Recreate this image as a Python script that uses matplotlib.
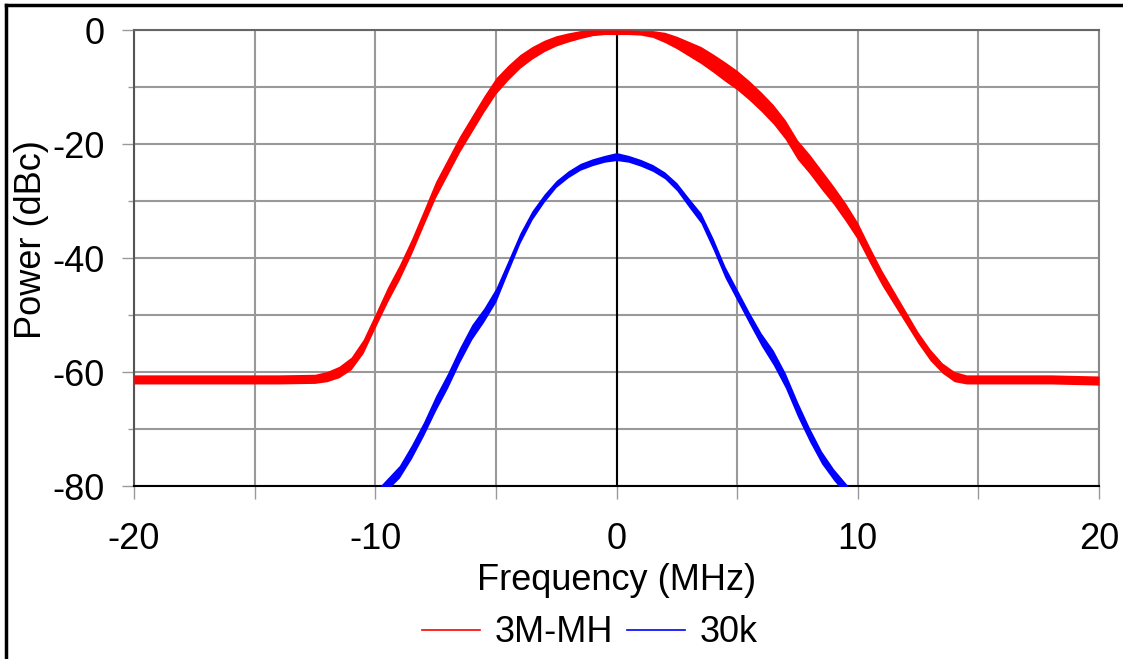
import matplotlib.pyplot as plt
from matplotlib.lines import Line2D
from matplotlib.ticker import MultipleLocator

plt.rcParams['font.family'] = ['Liberation Sans', 'DejaVu Sans']
plt.rcParams['axes.unicode_minus'] = False

# 3M-MH trace (MHz, dBc) and the noise spread around it
red_f = [-20, -18, -16, -14, -12.5, -12, -11.5, -11, -10.5, -10, -9.5, -9, -8.5, -8,
         -7.5, -7, -6.5, -6, -5.5, -5, -4.5, -4, -3.5, -3, -2.5, -2, -1.5, -1, -0.5,
         0, 0.5, 1, 1.5, 2, 2.5, 3, 3.5, 4, 4.5, 5, 5.5, 6, 6.5, 7, 7.5, 8, 8.5, 9,
         9.5, 10, 10.5, 11, 11.5, 12, 12.5, 13, 13.5, 14, 14.5, 16, 18, 20]
red_db = [-61.3, -61.3, -61.3, -61.3, -61.2, -60.8, -60.0, -58.5, -55.5, -51.0, -46.5,
          -42.5, -38.0, -33.0, -28.0, -24.0, -20.0, -16.5, -13.0, -9.8, -7.5, -5.5,
          -4.0, -2.8, -1.9, -1.3, -0.8, -0.5, -0.4, -0.4, -0.4, -0.5, -0.7, -1.3,
          -2.2, -3.3, -4.4, -5.8, -7.3, -8.8, -10.6, -12.6, -14.8, -17.5, -21.0,
          -23.5, -26.3, -29.0, -32.0, -35.3, -39.5, -43.5, -47.0, -50.5, -54.0,
          -57.0, -59.3, -60.8, -61.3, -61.3, -61.3, -61.5]
red_spread = [0.8, 0.8, 0.8, 0.8, 0.8, 0.9, 1.0, 1.1, 1.2, 1.2, 1.3, 1.3, 1.3, 1.3,
              1.4, 1.4, 1.4, 1.4, 1.4, 1.4, 1.3, 1.2, 1.1, 1.0, 0.9, 0.8, 0.7, 0.5,
              0.4, 0.4, 0.4, 0.4, 0.6, 0.9, 1.1, 1.3, 1.5, 1.6, 1.7, 1.7, 1.7, 1.7,
              1.7, 1.7, 1.7, 1.7, 1.7, 1.6, 1.6, 1.5, 1.4, 1.3, 1.2, 1.1, 1.0, 1.0,
              0.9, 0.9, 0.8, 0.8, 0.8, 0.8]

# 30k trace
blue_f = [-9.8, -9, -8.5, -8, -7.5, -7, -6.5, -6, -5.5, -5, -4.5, -4, -3.5, -3, -2.5,
          -2, -1.5, -1, -0.5, 0, 0.5, 1, 1.5, 2, 2.5, 3, 3.5, 4, 4.5, 5, 5.5, 6, 6.5,
          7, 7.5, 8, 8.5, 9, 9.6]
blue_db = [-81.0, -77.5, -74.0, -70.0, -65.5, -61.5, -57.0, -53.0, -50.0, -46.5, -41.5,
           -36.5, -32.5, -29.5, -27.0, -25.3, -24.0, -23.2, -22.6, -22.2, -22.6, -23.3,
           -24.2, -25.5, -27.5, -30.3, -33.0, -37.5, -42.5, -46.5, -50.5, -54.3, -57.5,
           -61.5, -66.5, -71.0, -75.0, -78.0, -81.0]
blue_spread = [1.0, 1.1, 1.2, 1.2, 1.3, 1.3, 1.3, 1.3, 1.2, 1.2, 1.0, 0.9, 0.8, 0.7,
               0.6, 0.6, 0.6, 0.6, 0.6, 0.7, 0.6, 0.6, 0.6, 0.6, 0.7, 0.8, 0.9, 1.0,
               1.0, 1.0, 1.0, 1.1, 1.3, 1.3, 1.3, 1.2, 1.1, 1.0, 1.0]

series = [('3M-MH', red_f, red_db, red_spread, '#ff0000'),
          ('30k', blue_f, blue_db, blue_spread, '#0000ff')]

fig = plt.figure(figsize=(11.23, 6.59), dpi=100)
ax = fig.add_axes([134 / 1123, 1 - 486 / 659, 965 / 1123, 456 / 659])

for name, f, db, sp, col in series:
    lo = [d - s for d, s in zip(db, sp)]
    hi = [d + s for d, s in zip(db, sp)]
    ax.fill_between(f, lo, hi, color=col, lw=0, zorder=3)
    ax.plot(f, db, color=col, lw=1.2, label=name, zorder=4)

ax.set_xlim(-20, 20)
ax.set_ylim(-80, 0)
ax.xaxis.set_major_locator(MultipleLocator(10))
ax.xaxis.set_minor_locator(MultipleLocator(5))
ax.yaxis.set_major_locator(MultipleLocator(20))
ax.yaxis.set_minor_locator(MultipleLocator(10))
ax.grid(True, which='both', color='#999999', lw=1.5, zorder=1)
ax.axvline(0, color='black', lw=1.5, zorder=2)

ax.tick_params(axis='y', which='major', length=9, width=1, color='#999999',
               labelsize=26, pad=12)
ax.tick_params(axis='y', which='minor', length=4, width=1, color='#999999')
ax.tick_params(axis='x', which='both', length=9, width=1, color='#999999',
               labelsize=26, pad=17)

ax.spines['bottom'].set_color('black')
ax.spines['bottom'].set_linewidth(1.5)
ax.spines['left'].set_color('#555555')
ax.spines['top'].set_color('#666666')
ax.spines['right'].set_color('#888888')
for s in ['left', 'top', 'right']:
    ax.spines[s].set_linewidth(1.5)

ax.set_xlabel('Frequency (MHz)', fontsize=26, labelpad=4)
ax.set_ylabel('Power (dBc)', fontsize=26)
ax.yaxis.set_label_coords(-0.088, 0.54)

fig.legend(loc='center', bbox_to_anchor=(590 / 1123, 1 - 633 / 659), ncol=2,
           frameon=False, fontsize=26, handlelength=1.6, handletextpad=0.4,
           columnspacing=0.4)

# black frame of the picture (left and top edges visible)
fig.add_artist(Line2D([6 / 1123, 6 / 1123], [0, 1 - 5 / 659], color='black', lw=2.5))
fig.add_artist(Line2D([6 / 1123, 1], [1 - 5 / 659, 1 - 5 / 659], color='black', lw=2.5))

fig.savefig('out.png', dpi=100)
